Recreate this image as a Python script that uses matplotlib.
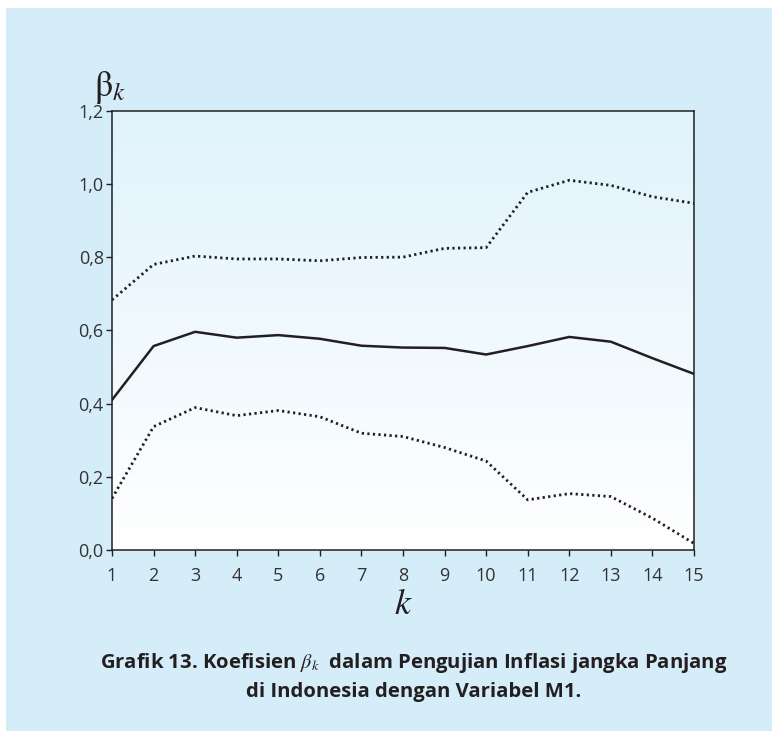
"""
Grafik 13 - Koefisien beta_k, inflasi jangka panjang, variabel M1
"""

import numpy as np
import matplotlib.pyplot as plt
from matplotlib.patches import Rectangle

k = np.arange(1, 16)

beta = [0.41, 0.557, 0.596, 0.580, 0.587, 0.577, 0.558, 0.553,
        0.552, 0.534, 0.557, 0.582, 0.569, 0.524, 0.481]
batas_atas = [0.683, 0.780, 0.803, 0.795, 0.795, 0.790, 0.799, 0.800,
              0.824, 0.826, 0.977, 1.010, 0.996, 0.965, 0.947]
batas_bawah = [0.141, 0.337, 0.389, 0.367, 0.381, 0.364, 0.319, 0.310,
               0.280, 0.243, 0.137, 0.154, 0.146, 0.087, 0.018]

yticks = [0.0, 0.2, 0.4, 0.6, 0.8, 1.0, 1.2]
ylabels = ["0,0", "0,2", "0,4", "0,6", "0,8", "1,0", "1,2"]

plt.rcParams['font.family'] = ['Open Sans', 'DejaVu Sans']
plt.rcParams['mathtext.fontset'] = 'stix'

W, H = 772, 731
fig = plt.figure(figsize=(W/100, H/100), dpi=100)
fig.patch.set_facecolor('white')

# panel biru muda
panel = Rectangle((6/W, 0), 1-6/W, 1-8/H, transform=fig.transFigure,
                  facecolor='#d5ecf9', edgecolor='none', zorder=-10)
fig.add_artist(panel)

ax = fig.add_axes([112/W, 1-550/H, (694-112)/W, (550-110.7)/H])
ax.set_zorder(1)

# gradien latar area plot
grad = np.linspace(0, 1, 256).reshape(-1, 1)
top = np.array([0.878, 0.953, 0.988])
bot = np.array([1.0, 1.0, 1.0])
img = top[None, None, :]*(1-grad[:, :, None]) + bot[None, None, :]*grad[:, :, None]
ax.imshow(img, extent=[0, 1, 0, 1], transform=ax.transAxes, aspect='auto', zorder=0)

ax.plot(k, batas_atas, color='#231f20', lw=2.0, ls=(0, (0.8, 1.2)), zorder=2)
ax.plot(k, beta, color='#231f20', lw=1.8, zorder=2)
ax.plot(k, batas_bawah, color='#231f20', lw=2.0, ls=(0, (0.8, 1.2)), zorder=2)

ax.set_xlim(1, 15)
ax.set_ylim(0, 1.2)
ax.set_xticks(k)
ax.set_yticks(yticks)
ax.set_yticklabels(ylabels)
ax.tick_params(direction='out', length=4, width=1, color='#231f20',
               labelsize=13, labelcolor='#333333')
ax.tick_params(axis='x', pad=8)
ax.tick_params(axis='y', pad=2)
for s in ax.spines.values():
    s.set_color('#231f20')
    s.set_linewidth(1.1)

fig.text(94/W, 1-87/H, r'$\mathrm{\beta}_{k}$', fontsize=26, color='#231f20', va='center')
fig.text(403/W, 1-605/H, r'$k$', fontsize=26, color='#231f20', ha='center', va='center')

fig.text(414/W, 1-663/H, r'Grafik 13. Koefisien $\beta_{k}$  dalam Pengujian Inflasi jangka Panjang',
         fontsize=14.6, fontweight='bold', color='#231f20', ha='center', va='center')
fig.text(414/W, 1-692/H, 'di Indonesia dengan Variabel M1.',
         fontsize=14.6, fontweight='bold', color='#231f20', ha='center', va='center')

fig.savefig('out.png', dpi=100)
